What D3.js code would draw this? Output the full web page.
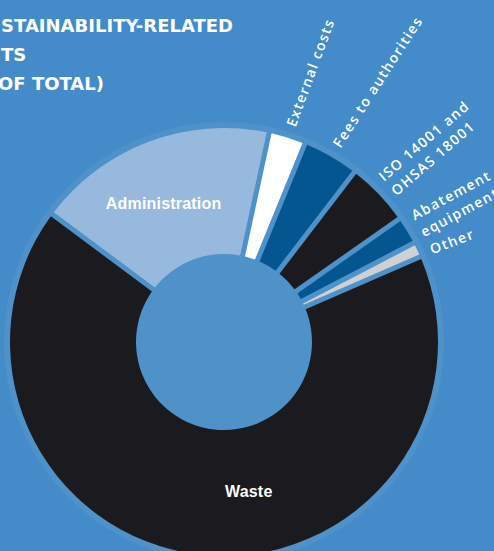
<!DOCTYPE html>
<html>
<head>
<meta charset="utf-8">
<script src="https://cdn.jsdelivr.net/npm/d3@7"></script>
<style>
  html, body { margin: 0; padding: 0; background: #438bc9; }
  svg { display: block; }
</style>
</head>
<body>
<svg id="chart" width="494" height="551"></svg>
<script>
// Sustainability-related costs, share of total (%)
const categories = ["Waste", "Administration", "External costs", "Fees to authorities",
  "ISO 14001 and OHSAS 18001", "Abatement equipment", "Other"];
const values = [68, 18.3, 2.5, 4.0, 4.6, 1.8, 0.8];
const labelLines = [["Waste"], ["Administration"], ["External costs"], ["Fees to authorities"],
  ["ISO 14001 and", "OHSAS 18001"], ["Abatement", "equipment"], ["Other"]];
const sliceColors = ["#1b1a1f", "#98b9de", "#ffffff", "#03568f", "#1b1a1f", "#03568f", "#cfd0d3"];
const titleLines = ["SUSTAINABILITY-RELATED", "COSTS", "(% OF TOTAL)"];

const svg = d3.select("#chart");
const W = 494, H = 551;
const cx = 224, cy = 342;
const rInner = 88, rOuter = 214, rHalo = 220;
const rad = d => d * Math.PI / 180;

svg.append("rect").attr("width", W).attr("height", H).attr("fill", "#438bc9");

// Title block (bleeds off the left edge of the panel)
const titleX = [-26.5, -40.5, -34.5];
svg.append("g").selectAll("text").data(titleLines).join("text")
  .attr("x", (d, i) => titleX[i])
  .attr("y", (d, i) => 31.5 + i * 29.3)
  .attr("fill", "#ffffff")
  .attr("font-family", "DejaVu Sans, sans-serif")
  .attr("font-weight", "bold")
  .attr("font-size", 18)
  .text(d => d);

const g = svg.append("g").attr("transform", `translate(${cx},${cy})`);

// Lighter halo disc behind the ring; it also fills the hole and the gaps
g.append("circle").attr("r", rHalo).attr("fill", "#4f91c9");

const start = rad(66.5);
const pie = d3.pie().value(d => d).sort(null)
  .startAngle(start).endAngle(start + 2 * Math.PI)
  .padAngle(0.0216);
const arcs = pie(values);
const arc = d3.arc().innerRadius(rInner).outerRadius(rOuter);

g.selectAll("path.slice").data(arcs).join("path")
  .attr("class", "slice")
  .attr("d", arc)
  .attr("fill", (d, i) => sliceColors[i]);

// Labels inside the two large slices
const innerNudge = { 0: -16, 1: -3 };   // degrees along the ring
const labelArc = d3.arc().innerRadius(151).outerRadius(151);
[0, 1].forEach(i => {
  const a = arcs[i];
  const mid = (a.startAngle + a.endAngle) / 2 + rad(innerNudge[i]);
  const [x, y] = labelArc.centroid({ startAngle: mid, endAngle: mid });
  g.append("text")
    .attr("x", x).attr("y", y)
    .attr("dy", "0.36em")
    .attr("text-anchor", "middle")
    .attr("fill", "#ffffff")
    .attr("font-family", "Liberation Sans, Arial, sans-serif")
    .attr("font-weight", "bold")
    .attr("font-size", 16)
    .attr("letter-spacing", 0.2)
    .text(labelLines[i][0]);
});

// Radial labels for the small slices: anchored near the slice's mid-angle,
// reading outward with a slight clockwise tilt
const rLabel = 226, tilt = 3, lineH = 19;
const outerNudge = { 6: 1.5 };          // degrees along the ring
arcs.forEach((a, i) => {
  if (i < 2) return;
  const mid = (a.startAngle + a.endAngle) / 2 + rad(outerNudge[i] || 0);
  const midDeg = mid * 180 / Math.PI;
  const px = rLabel * Math.sin(mid), py = -rLabel * Math.cos(mid);
  const lines = labelLines[i];
  const lg = g.append("g")
    .attr("transform", `translate(${px},${py}) rotate(${midDeg - 90 + tilt})`);
  lg.selectAll("text").data(lines).join("text")
    .attr("x", 0)
    .attr("y", (d, j) => (j - (lines.length - 1) / 2) * lineH)
    .attr("dy", "0.35em")
    .attr("fill", "#ffffff")
    .attr("font-family", "Open Sans, DejaVu Sans, sans-serif")
    .attr("font-weight", 600)
    .attr("font-size", 14)
    .attr("letter-spacing", 1.4)
    .text(d => d);
});
</script>
</body>
</html>
